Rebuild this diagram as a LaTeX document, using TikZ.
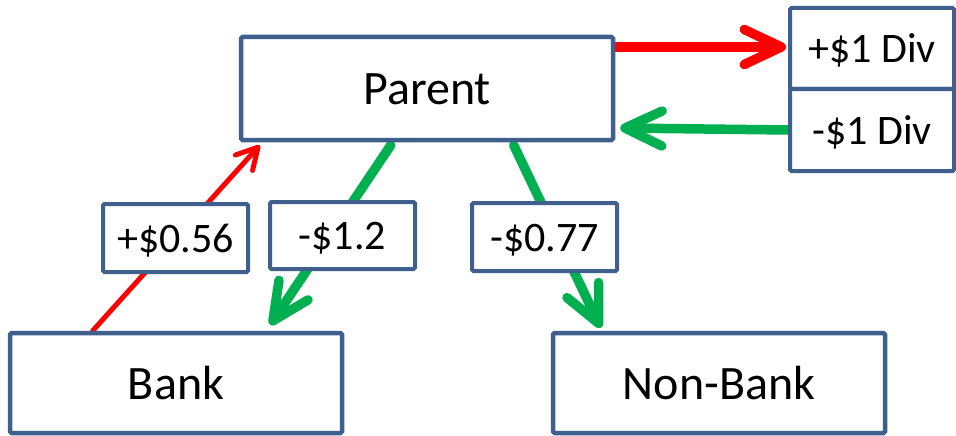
\documentclass[tikz,border=0pt]{standalone}
\usepackage{fontspec}
\setmainfont{Carlito}
\usetikzlibrary{arrows.meta,calc,backgrounds}
\definecolor{boxblue}{HTML}{3F5F8C}
\definecolor{flowred}{HTML}{FF0000}
\definecolor{flowgreen}{HTML}{00B050}
\begin{document}
\begin{tikzpicture}[x=1pt,y=-1pt,
  box/.style={draw=boxblue, line width=4.5pt, rounded corners=1.5pt, fill=white,
    inner sep=0pt, font=\fontsize{48}{56}\selectfont, text height=32pt, text depth=0pt},
  tag/.style={box, line width=4pt, minimum width=145pt, minimum height=68pt,
    font=\fontsize{42}{50}\selectfont, text height=30pt, text depth=2pt},
  divbox/.style={tag, minimum width=164pt},
  flow/.style={line width=9.5pt, line cap=round,
    -{Straight Barb[round, length=37pt, width=35pt]}},
  thinflow/.style={line width=5pt, line cap=round,
    -{Straight Barb[round, length=21pt, width=23pt]}},
]
\useasboundingbox (0,0) rectangle (956,436);

% entities
\node[box, minimum width=372pt, minimum height=103pt] (parent) at (427,88.5) {Parent};
\node[box, minimum width=332pt, minimum height=100pt] (bank) at (176,383) {Bank};
\node[box, minimum width=332pt, minimum height=100pt] (nonbank) at (719,383) {Non-Bank};

% dividend boxes
\node[divbox, minimum height=81pt] (plusdiv) at (872,48.5) {+\$1 Div};
\node[divbox, minimum height=82pt] (minusdiv) at (872,130) {-\$1 Div};

% amount tags
\node[tag] (up) at (175.5,238) {+\$0.56};
\node[tag, minimum height=67pt] (tobank) at (342.5,235.5) {-\$1.2};
\node[tag] (tonon) at (544.5,237) {-\$0.77};

% flows
\begin{scope}[on background layer]
  \draw[flow, flowred] ($(parent.east)+(0,-41.5)$) -- ($(plusdiv.west)+(-2,-1.5)$);
  \draw[flow, flowgreen] (minusdiv.west) -- ($(parent.east |- minusdiv.west)+(5,-2)$);
  \draw[thinflow, flowred] ($(bank.north west)+(85,0)$) -- ($(parent.south west)+(21,3)$);
  \draw[flow, flowgreen] ($(parent.south west)+(152,3)$) -- ($(bank.north east)+(-74,-6)$);
  \draw[flow, flowgreen] ($(parent.south west)+(275,3)$) -- ($(nonbank.north west)+(50,-3)$);
\end{scope}
\end{tikzpicture}
\end{document}
